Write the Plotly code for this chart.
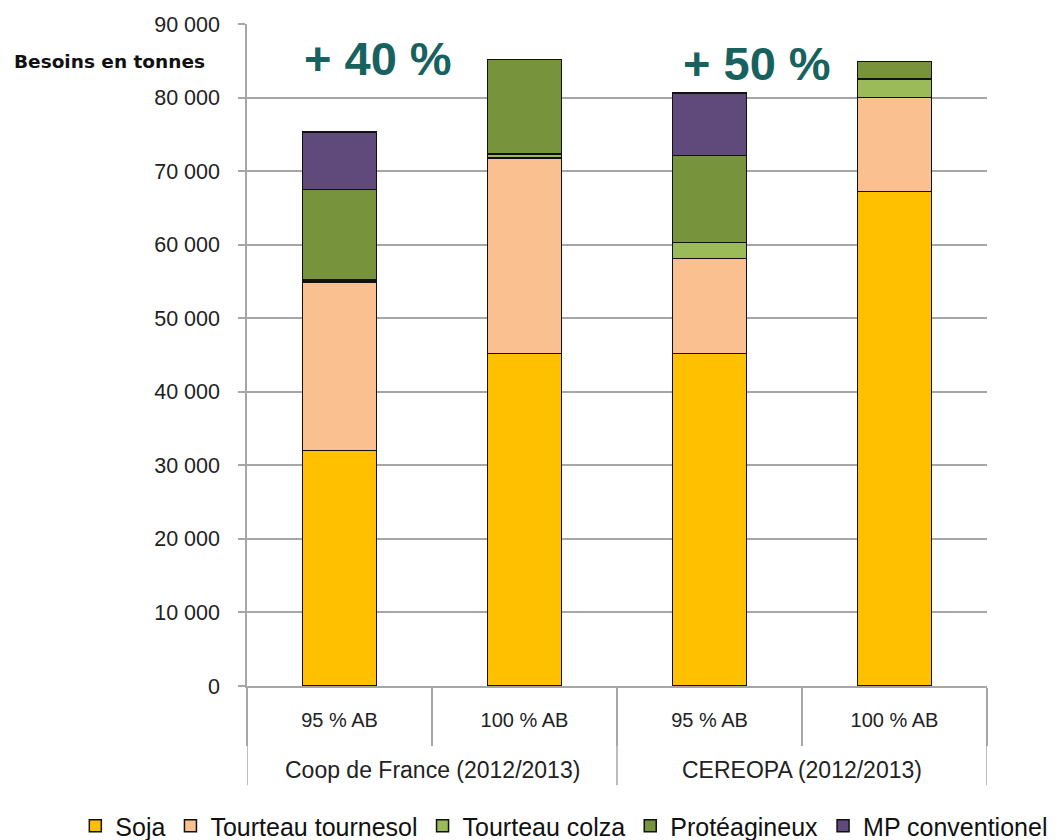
import plotly.graph_objects as go

# Categories: two sources, two scenarios each
groups = ["Coop de France (2012/2013)", "CEREOPA (2012/2013)"]
scenarios = ["95 % AB", "100 % AB", "95 % AB", "100 % AB"]
group_of_bar = [0, 0, 1, 1]

# Needs in tonnes per raw material
soja = [32000, 45200, 45200, 67200]
tourteau_tournesol = [22900, 26600, 12900, 12800]
tourteau_colza = [300, 500, 2200, 2500]
proteagineux = [12300, 12900, 11800, 2400]
mp_conventionel = [7800, 0, 8500, 0]

y_ticks = [0, 10000, 20000, 30000, 40000, 50000, 60000, 70000, 80000, 90000]

series = [
    ("Soja", soja, "#FFC000"),
    ("Tourteau tournesol", tourteau_tournesol, "#FAC090"),
    ("Tourteau colza", tourteau_colza, "#9BBB59"),
    ("Protéagineux", proteagineux, "#77933C"),
    ("MP conventionel", mp_conventionel, "#604A7B"),
]

FONT = "Liberation Sans, Arial, sans-serif"
GRID = "#A6A6A6"

pos = list(range(len(scenarios)))
boundaries = [p - 0.5 for p in pos] + [pos[-1] + 0.5]

fig = go.Figure()
for name, vals, color in series:
    fig.add_trace(go.Bar(
        x=pos, y=vals, name=name, width=0.4,
        marker=dict(color=color, line=dict(color="#111111", width=1.5)),
    ))

fig.update_layout(
    barmode="stack",
    width=1061, height=840,
    margin=dict(l=247, r=74, t=24, b=154, autoexpand=False),
    paper_bgcolor="white", plot_bgcolor="white",
    separators=", ",
    font=dict(family=FONT, size=19, color="#222222"),
    showlegend=True,
    legend=dict(orientation="h", xref="paper", yref="paper",
                x=-0.232, xanchor="left", y=-0.2115, yanchor="middle",
                traceorder="normal", font=dict(size=25, color="#111111"),
                itemwidth=30),
    xaxis=dict(
        automargin=False,
        range=[-0.5, len(pos) - 0.5],
        tickmode="array", tickvals=pos, ticktext=scenarios,
        ticks="", ticklabelstandoff=15,
        tickfont=dict(size=20, color="#222222"),
        minor=dict(tickmode="array", tickvals=boundaries, ticks="outside",
                   ticklen=58, tickcolor=GRID, tickwidth=1.5, showgrid=False),
        showline=True, linecolor=GRID, linewidth=1.5,
        showgrid=False, zeroline=False,
    ),
    yaxis=dict(
        automargin=False,
        range=[0, 90000], tickvals=y_ticks, tickformat=",d",
        showgrid=True, gridcolor=GRID, gridwidth=1.5,
        showline=True, linecolor=GRID, linewidth=1.5,
        ticks="outside", ticklen=7, tickcolor=GRID, tickwidth=1.5,
        ticklabelstandoff=14,
        tickfont=dict(size=21.5, color="#222222"),
        zeroline=False,
    ),
)

# source labels under each pair of scenarios, with full-height separators
for gi, gname in enumerate(groups):
    members = [p for p, g in zip(pos, group_of_bar) if g == gi]
    fig.add_annotation(text=gname, x=sum(members) / len(members), xref="x",
                       y=-0.127, yref="paper", yanchor="middle", showarrow=False,
                       font=dict(size=23, color="#222222"))
group_edges = [-0.5] + [p + 0.5 for p in pos if p + 1 < len(pos)
                        and group_of_bar[p] != group_of_bar[p + 1]] + [pos[-1] + 0.5]
for xe in group_edges:
    fig.add_shape(type="line", xref="x", yref="paper", x0=xe, x1=xe, y0=0, y1=-0.15,
                  line=dict(color=GRID, width=1.5))

fig.add_annotation(text="<b>Besoins en tonnes</b>", xref="paper", yref="paper",
                   x=-0.318, y=0.9426, xanchor="left", yanchor="middle", showarrow=False,
                   font=dict(family="DejaVu Sans, sans-serif", size=18.5, color="#111111"))
fig.add_annotation(text="<b>+ 40 %</b>", xref="paper", yref="paper",
                   x=0.177, y=0.948, xanchor="center", yanchor="middle", showarrow=False,
                   font=dict(size=47, color="#17625F"))
fig.add_annotation(text="<b>+ 50 %</b>", xref="paper", yref="paper",
                   x=0.689, y=0.94, xanchor="center", yanchor="middle", showarrow=False,
                   font=dict(size=47, color="#17625F"))

fig.write_html("out.html")
